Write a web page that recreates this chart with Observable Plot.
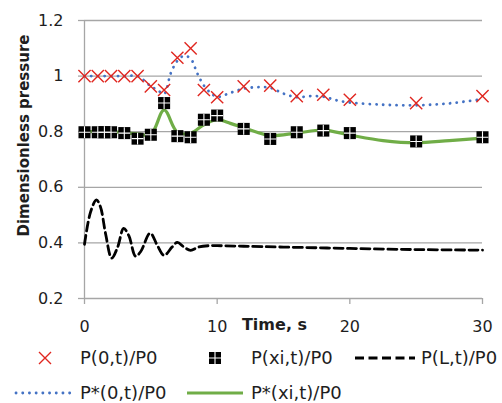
<!DOCTYPE html>
<html>
<head>
<meta charset="utf-8">
<script src="https://cdn.jsdelivr.net/npm/d3@7"></script>
<script src="https://cdn.jsdelivr.net/npm/@observablehq/plot@0.6"></script>
<style>
  html, body { margin: 0; padding: 0; background: #fff; }
  #chart { position: relative; width: 502px; height: 403px; font-family: "DejaVu Sans", sans-serif; color: #1e1e1e; }
  #chart svg.plot { display: block; }
  #legend { position: absolute; left: 0; top: 340px; width: 502px; height: 63px; }
  #legend .txt { position: absolute; font-size: 18px; line-height: 22px; white-space: nowrap; }
  #legend svg { position: absolute; overflow: visible; }
</style>
</head>
<body>
<div id="chart"></div>
<script>
// ---- data ----
const markerTimes = [0, 1, 2, 3, 4, 5, 6, 7, 8, 9, 10, 12, 14, 16, 18, 20, 25, 30];
const p0Values    = [1, 1, 1, 1, 1, 0.963, 0.95, 1.066, 1.10, 0.95, 0.924, 0.963, 0.966, 0.928, 0.933, 0.915, 0.903, 0.928];

const pxiTimes  = [0, 1, 1.5, 2, 3, 4, 5, 6, 7, 8, 9, 10, 12, 14, 16, 18, 20, 25, 30];
const pxiValues = [0.798, 0.798, 0.798, 0.798, 0.795, 0.775, 0.789, 0.903, 0.784, 0.78, 0.843, 0.858, 0.81, 0.774, 0.798, 0.804, 0.795, 0.765, 0.78];

const pLTimes  = [0, 0.45, 0.9, 1.2, 1.6, 2.05, 2.5, 2.95, 3.35, 3.85, 4.25, 4.95, 5.5, 6.0, 6.6, 7.0, 7.5, 8.0, 8.6, 9.4, 10, 12, 15, 20, 25, 30];
const pLValues = [0.395, 0.51, 0.555, 0.53, 0.43, 0.345, 0.385, 0.452, 0.425, 0.352, 0.37, 0.435, 0.39, 0.355, 0.385, 0.402, 0.385, 0.373, 0.385, 0.39, 0.39, 0.388, 0.385, 0.38, 0.376, 0.374];

const pStar0Times  = [0, 1, 2, 3, 4, 4.5, 5, 5.5, 6, 6.5, 7, 7.5, 8, 8.5, 9, 9.5, 10, 11, 12, 13, 14, 15, 16, 17, 18, 19, 20, 22.5, 25, 27.5, 30];
const pStar0Values = [1, 1, 1, 1, 1, 0.984, 0.963, 0.95, 0.936, 1.01, 1.055, 1.073, 1.063, 1.01, 0.966, 0.94, 0.925, 0.94, 0.955, 0.96, 0.958, 0.937, 0.924, 0.928, 0.926, 0.913, 0.905, 0.897, 0.895, 0.902, 0.917];

const pStarXiTimes  = [0, 1, 2, 3, 4, 5, 6, 7, 8, 9, 10, 11, 12, 13, 14, 16, 18, 20, 22.5, 25, 27.5, 30];
const pStarXiValues = [0.80, 0.80, 0.80, 0.796, 0.792, 0.79, 0.878, 0.798, 0.795, 0.825, 0.843, 0.83, 0.814, 0.798, 0.786, 0.795, 0.806, 0.788, 0.768, 0.76, 0.768, 0.777];

const xTicks = [0, 10, 20, 30];
const xTickLabels = ["0", "10", "20", "30"];
const yTicks = [0.2, 0.4, 0.6, 0.8, 1.0, 1.2];
const yTickLabels = ["0.2", "0.4", "0.6", "0.8", "1", "1.2"];

const xTitle = "Time, s";
const yTitle = "Dimensionless pressure";
const seriesNames = ["P(0,t)/P0", "P(xi,t)/P0", "P(L,t)/P0", "P*(0,t)/P0", "P*(xi,t)/P0"];

// ---- tables ----
const zip = (ts, vs) => ts.map((t, i) => ({t, v: vs[i]}));
const p0 = zip(markerTimes, p0Values);
const pxi = zip(pxiTimes, pxiValues);
const pL = zip(pLTimes, pLValues);
const pStar0 = zip(pStar0Times, pStar0Values);
const pStarXi = zip(pStarXiTimes, pStarXiValues);

const RED = "#e0261f", BLUE = "#4472c4", GREEN = "#70ad47", GRID = "#a6a6a6", TXT = "#1e1e1e";

const plot = Plot.plot({
  width: 502,
  height: 340,
  marginLeft: 84,
  marginRight: 20,
  marginTop: 20,
  marginBottom: 42,
  style: {fontFamily: '"DejaVu Sans", sans-serif', fontSize: "16px", color: TXT, background: "transparent", overflow: "visible"},
  x: {domain: [0, 30]},
  y: {domain: [0.2, 1.2]},
  marks: [
    Plot.gridY(yTicks, {stroke: GRID, strokeOpacity: 1, strokeWidth: 1.3}),
    Plot.ruleX([0], {stroke: GRID, strokeWidth: 1.3}),
    Plot.axisY(yTicks, {tickSize: 6, tickPadding: 15, stroke: GRID, strokeWidth: 1.3, fill: TXT, fontSize: 16,
      tickFormat: (d) => yTickLabels[yTicks.indexOf(d)], label: null}),
    Plot.axisX(xTicks, {tickSize: 6, tickPadding: 16, stroke: GRID, strokeWidth: 1.3, fill: TXT, fontSize: 16,
      tickFormat: (d) => xTickLabels[xTicks.indexOf(d)], label: null}),
    Plot.line(pL, {x: "t", y: "v", stroke: "#000", strokeWidth: 2.8, strokeDasharray: "9 4.5", curve: "catmull-rom"}),
    Plot.line(pStar0, {x: "t", y: "v", stroke: BLUE, strokeWidth: 2.8, strokeDasharray: "0.1 6.6", strokeLinecap: "round", curve: "catmull-rom"}),
    Plot.line(pStarXi, {x: "t", y: "v", stroke: GREEN, strokeWidth: 3.2, curve: "catmull-rom"}),
    Plot.dot(p0, {x: "t", y: "v", symbol: "times", stroke: RED, strokeWidth: 1.4, r: 5.6}),
    Plot.dot(pxi, {x: "t", y: "v", symbol: "square", fill: "#000", r: 6.8}),
    Plot.dot(pxi, {x: "t", y: "v", symbol: "plus", stroke: "#fff", strokeWidth: 1.1, r: 3.9}),
    Plot.text([yTitle], {frameAnchor: "left", textAnchor: "middle", lineAnchor: "middle", rotate: -90, dx: -60, dy: -24, fontWeight: "bold", fontSize: 15, fill: TXT}),
    Plot.text([xTitle], {frameAnchor: "bottom", textAnchor: "middle", lineAnchor: "middle", dx: -9, dy: 26, fontWeight: "bold", fontSize: 16, fill: TXT})
  ]
});

const chart = document.getElementById("chart");
chart.appendChild(plot);

// ---- legend (HTML below the SVG) ----
const legend = document.createElement("div");
legend.id = "legend";
const rowY = [18, 53];
const legendLayout = [
  {kind: "times",  sx: 38,  sw: 14, tx: 80,  row: 0},
  {kind: "square", sx: 209, sw: 12, tx: 251, row: 0},
  {kind: "dash",   sx: 355, sw: 60, tx: 421, row: 0},
  {kind: "dot",    sx: 15,  sw: 60, tx: 80,  row: 1},
  {kind: "solid",  sx: 187, sw: 56, tx: 251, row: 1}
];
legendLayout.forEach((it, i) => {
  const cy = rowY[it.row];
  const s = document.createElementNS("http://www.w3.org/2000/svg", "svg");
  s.setAttribute("width", it.sw);
  s.setAttribute("height", 14);
  s.style.left = it.sx + "px";
  s.style.top = (cy - 7) + "px";
  let inner = "";
  const w = it.sw;
  if (it.kind === "times") inner = `<path d="M1,1L13,13M1,13L13,1" stroke="${RED}" stroke-width="1.4" fill="none"/>`;
  if (it.kind === "square") inner = `<rect x="0" y="1" width="12" height="12" fill="#000"/><path d="M0,7H12M6,1V13" stroke="#fff" stroke-width="1.1"/>`;
  if (it.kind === "dash") inner = `<line x1="0" y1="7" x2="${w}" y2="7" stroke="#000" stroke-width="2.8" stroke-dasharray="9 4.5"/>`;
  if (it.kind === "dot") inner = `<line x1="1" y1="7" x2="${w}" y2="7" stroke="${BLUE}" stroke-width="2.8" stroke-dasharray="0.1 6.6" stroke-linecap="round"/>`;
  if (it.kind === "solid") inner = `<line x1="0" y1="7" x2="${w}" y2="7" stroke="${GREEN}" stroke-width="3.2"/>`;
  s.innerHTML = inner;
  legend.appendChild(s);
  const t = document.createElement("span");
  t.className = "txt";
  t.textContent = seriesNames[i];
  t.style.left = it.tx + "px";
  t.style.top = (cy - 11) + "px";
  legend.appendChild(t);
});
chart.appendChild(legend);
</script>
</body>
</html>
